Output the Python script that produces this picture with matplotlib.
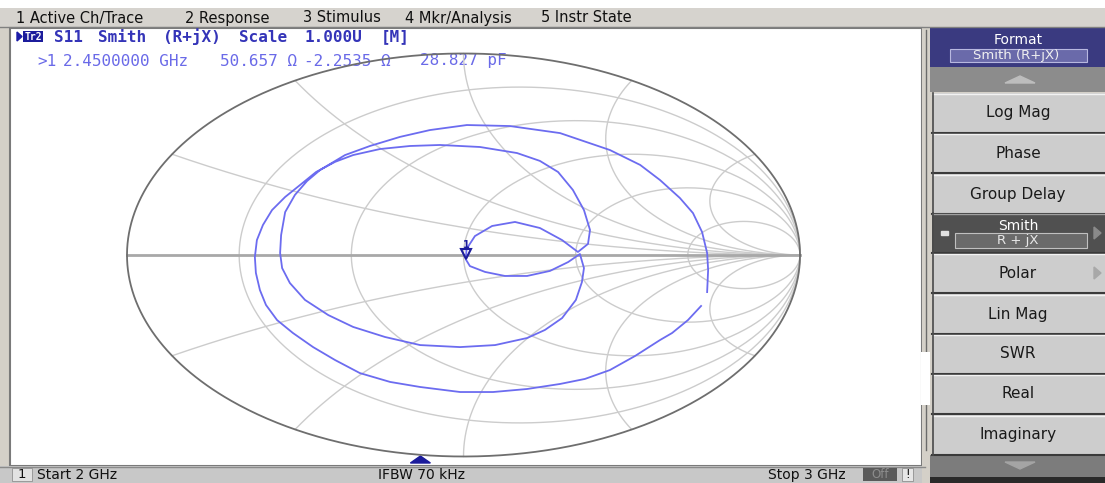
import numpy as np
import matplotlib
matplotlib.use('Agg')
import matplotlib.pyplot as plt
from matplotlib.patches import Rectangle, Polygon

# S11 trace as reflection coefficient, 2 GHz -> 3 GHz
gamma_re = [0.706, 0.667, 0.620, 0.584, 0.510, 0.435, 0.361, 0.287, 0.189, 0.088,
            -0.010, -0.129, -0.218, -0.308, -0.382, -0.447, -0.507, -0.554, -0.587, -0.605,
            -0.617, -0.620, -0.614, -0.596, -0.569, -0.530, -0.486, -0.438,
            -0.382, -0.328, -0.248, -0.159, -0.070, 0.049, 0.159, 0.227, 0.281, 0.325,
            0.358, 0.376, 0.370,
            0.340, 0.293, 0.227, 0.153, 0.085, 0.034, 0.009, 0.007, 0.019, 0.064,
            0.123, 0.189, 0.257, 0.311, 0.346,
            0.358, 0.352, 0.334, 0.293, 0.242, 0.189, 0.094, -0.010, -0.129, -0.233,
            -0.328, -0.402, -0.471, -0.516, -0.539, -0.545, -0.542, -0.530, -0.501, -0.465,
            -0.426,
            -0.352, -0.278, -0.189, -0.100, 0.010, 0.138, 0.287, 0.435, 0.525, 0.584,
            0.643, 0.682, 0.709, 0.724, 0.727, 0.724]
gamma_im = [-0.253, -0.323, -0.387, -0.422, -0.501, -0.571, -0.615, -0.640, -0.665, -0.680,
            -0.680, -0.655, -0.630, -0.586, -0.521, -0.457, -0.387, -0.323, -0.248, -0.174,
            -0.089, -0.010, 0.074, 0.149, 0.223, 0.288, 0.347, 0.412,
            0.462, 0.496, 0.526, 0.541, 0.546, 0.536, 0.506, 0.467, 0.412, 0.323,
            0.223, 0.124, 0.055,
            0.015, 0.074, 0.134, 0.164, 0.144, 0.094, 0.030, -0.022, -0.055, -0.084,
            -0.104, -0.104, -0.079, -0.035, 0.005,
            -0.065, -0.134, -0.223, -0.313, -0.372, -0.412, -0.447, -0.457, -0.447, -0.407,
            -0.357, -0.298, -0.223, -0.139, -0.065, 0.010, 0.099, 0.213, 0.298, 0.367,
            0.422,
            0.496, 0.541, 0.586, 0.620, 0.645, 0.640, 0.605, 0.521, 0.447, 0.372,
            0.283, 0.208, 0.114, 0.010, -0.074, -0.184]

z0 = 50.0
start_ghz = 2.0
stop_ghz = 3.0
marker_ghz = 2.45
marker_r = 50.657
marker_x = -2.2535
marker_c_pf = 28.827

# grid: resistance circles and reactance arcs (arcs meet the rim every 30 deg)
r_circles = [0.2, 0.5, 1, 2, 5]
x_arcs = [0.268, 0.577, 1, 1.732, 3.732]

menu_items = ['1 Active Ch/Trace', '2 Response', '3 Stimulus', '4 Mkr/Analysis', '5 Instr State']
menu_x = [16, 185, 303, 405, 541]

title_words = ['S11', 'Smith', '(R+jX)', 'Scale', '1.000U', '[M]']
title_cols = [0, 4, 10, 17, 23, 30]

buttons = ['Log Mag', 'Phase', 'Group Delay', 'Smith', 'Polar', 'Lin Mag', 'SWR', 'Real', 'Imaginary']
button_top = [93, 133, 174, 213, 253, 294, 334, 374, 415]
selected = 'Smith'
has_arrow = ['Smith', 'Polar']

W, H = 1105, 483
fig = plt.figure(figsize=(W / 100, H / 100), dpi=100)
fig.patch.set_facecolor('white')

ui = fig.add_axes([0, 0, 1, 1])
ui.set_xlim(0, W)
ui.set_ylim(H, 0)
ui.axis('off')

def box(x0, y0, x1, y1, fc, ec='none', lw=0, z=1):
    ui.add_patch(Rectangle((x0, y0), x1 - x0, y1 - y0, facecolor=fc, edgecolor=ec, lw=lw, zorder=z))

sans = 'DejaVu Sans'
mono = 'DejaVu Sans Mono'

# top menu bar
box(0, 8, W, 27, '#d6d3ce')
ui.plot([0, W], [27, 27], color='#808080', lw=1, zorder=2)
for t, x in zip(menu_items, menu_x):
    ui.text(x, 18, t, fontsize=10.5, family=sans, color='#101010', va='center', ha='left', zorder=3)

# chart window
chart_l, chart_r, chart_t, chart_b = 10, 922, 28, 466
box(0, 27, W, H, '#d4d0c8')
box(chart_l, chart_t, chart_r, chart_b, 'white', ec='#7a7a7a', lw=1.5)

# title line
ui.add_patch(Polygon([[17, 32], [17, 41], [22, 36.5]], closed=True, color='#1c1ca8', zorder=3))
box(23, 31, 43, 42, '#1c1c9c', z=3)
ui.text(33, 36.5, 'Tr2', fontsize=7, family=mono, weight='bold', color='white', ha='center', va='center', zorder=4)
for w, c in zip(title_words, title_cols):
    ui.text(54 + c * 10.9, 37, w, fontsize=11.5, family=mono, weight='bold',
            color='#3434b8', ha='left', va='center', zorder=3)

# marker readout
readout = ['>1', '%.7f GHz' % marker_ghz, '%.3f \u03a9' % marker_r, '%.4f \u03a9' % marker_x,
           '%.3f pF' % marker_c_pf]
readout_x = [37, 63, 220, 304, 420]
for t, x in zip(readout, readout_x):
    ui.text(x, 61, t, fontsize=11.5, family=mono, color='#6a6ae8', ha='left', va='center', zorder=3)

# stimulus marker position
mx_pos = chart_l + (marker_ghz - start_ghz) / (stop_ghz - start_ghz) * (chart_r - chart_l)
ui.add_patch(Polygon([[mx_pos - 10, 463], [mx_pos + 10, 463], [mx_pos, 456]], closed=True,
                     color='#1c1c9c', zorder=3))

# bottom status bar
box(0, 466, 925, H, '#c8c8c8')
ui.plot([0, 925], [466.5, 466.5], color='#8a8a8a', lw=1, zorder=2)
box(12, 468, 32, 481, '#e2e2e2', ec='#909090', lw=0.6, z=2)
ui.text(18, 475, '1', fontsize=9.5, family=sans, color='#101010', va='center', zorder=3)
ui.text(37, 475, 'Start %g GHz' % start_ghz, fontsize=10, family=sans, color='#101010', va='center', zorder=3)
ui.text(378, 475, 'IFBW 70 kHz', fontsize=10, family=sans, color='#101010', va='center', zorder=3)
ui.text(768, 475, 'Stop %g GHz' % stop_ghz, fontsize=10, family=sans, color='#101010', va='center', zorder=3)
box(863, 468, 897, 481, '#5a5a5a', z=2)
ui.text(880, 474.5, 'Off', fontsize=8.5, family=sans, color='#8c8c8c', ha='center', va='center', zorder=3)
box(902, 468, 913, 481, '#e6e6e6', ec='#909090', lw=0.6, z=2)
ui.text(907.5, 474.5, '!', fontsize=8.5, family=sans, color='#101010', ha='center', va='center', zorder=3)

# right softkey panel
box(922, 27, 932, H, '#d4d0c8')
ui.plot([926, 926], [30, 450], color='#6a6a6a', lw=1, zorder=2)
box(921, 352, 930, 405, 'white', z=2)
box(930, 28, W, 67, '#3a3a80')
ui.text(1018, 40, 'Format', fontsize=10, family=sans, color='white', ha='center', va='center', zorder=3)
box(950, 49, 1087, 62, '#6a6aaa', ec='#b8b8e0', lw=0.8, z=2)
ui.text(1016, 55.5, 'Smith (R+jX)', fontsize=9.5, family=sans, color='#f0f0f0', ha='center', va='center', zorder=3)
box(930, 67, W, 92, '#8c8c8c')
ui.add_patch(Polygon([[1005, 83], [1035, 83], [1020, 76]], closed=True, color='#bdbdbd', zorder=3))

for name, top in zip(buttons, button_top):
    sel = name == selected
    box(932, top, W, top + 40, '#505050' if sel else '#cdcdcd', z=2)
    ui.plot([932, W], [top + 0.5, top + 0.5], color='#a0a0a0' if sel else '#f2f2f2', lw=1, zorder=3)
    ui.plot([932, W], [top + 39.5, top + 39.5], color='#3a3a3a', lw=1.5, zorder=3)
    ui.plot([932.5, 932.5], [top, top + 40], color='#4a4a4a', lw=1.2, zorder=3)
    if sel:
        ui.text(1018, top + 13, name, fontsize=10, family=sans, color='white', ha='center', va='center', zorder=4)
        box(955, top + 20, 1087, top + 35, '#6a6a6a', ec='#c0c0c0', lw=0.8, z=3)
        ui.text(1018, top + 27.5, 'R + jX', fontsize=9.5, family=sans, color='#e8e8e8', ha='center', va='center', zorder=4)
        ui.add_patch(Rectangle((941, top + 18), 7, 4, color='#e0e0e0', zorder=4))
    else:
        ui.text(1018, top + 20, name, fontsize=11, family=sans, color='#1a1a1a', ha='center', va='center', zorder=4)
    if name in has_arrow:
        ui.add_patch(Polygon([[1094, top + 14], [1094, top + 26], [1101, top + 20]], closed=True,
                             color='#8a8a8a' if sel else '#a8a8a8', zorder=4))

box(930, 455, W, 477, '#7c7c7c')
ui.add_patch(Polygon([[1005, 462], [1035, 462], [1020, 469]], closed=True, color='#a4a4a4', zorder=3))
box(930, 477, W, H, '#2a2a2a')

# Smith chart, unit circle mapped to the screen ellipse
cx, cy, rx, ry = 463.5, 255.0, 336.5, 201.5
lim = 1.05
ax = fig.add_axes([(cx - lim * rx) / W, (H - cy - lim * ry) / H, 2 * lim * rx / W, 2 * lim * ry / H])
ax.set_xlim(-lim, lim)
ax.set_ylim(-lim, lim)
ax.set_aspect('auto')
ax.axis('off')
ax.patch.set_alpha(0)

grid_c = '#cccccc'
big = np.concatenate([-np.logspace(3, -3, 400), np.logspace(-3, 3, 400)])
for r in r_circles:
    z = r + 1j * big
    g = (z - 1) / (z + 1)
    ax.plot(g.real, g.imag, color=grid_c, lw=1.0, zorder=1)
rr = np.concatenate([[0], np.logspace(-3, 3, 600)])
for x in x_arcs:
    for s in (1, -1):
        z = rr + 1j * s * x
        g = (z - 1) / (z + 1)
        ax.plot(g.real, g.imag, color=grid_c, lw=1.0, zorder=1)
ax.plot([-1, 1], [0, 0], color='#a8a8a8', lw=2, zorder=1)
t = np.linspace(0, 2 * np.pi, 720)
ax.plot(np.cos(t), np.sin(t), color='#6e6e6e', lw=1.3, zorder=2)

ax.plot(gamma_re, gamma_im, color='#6c6cf0', lw=1.3, zorder=3)

zm = complex(marker_r, marker_x) / z0
gm = (zm - 1) / (zm + 1)
ax.plot(gm.real, gm.imag + 0.028, marker='v', ms=7, mfc='none', mec='#1c1c9c', mew=1.5, zorder=4)
ax.text(gm.real, gm.imag + 0.07, '1', fontsize=7, family=sans, weight='bold', color='#1c1c9c',
        ha='center', va='center', zorder=4)

fig.savefig('out.png', dpi=100)
